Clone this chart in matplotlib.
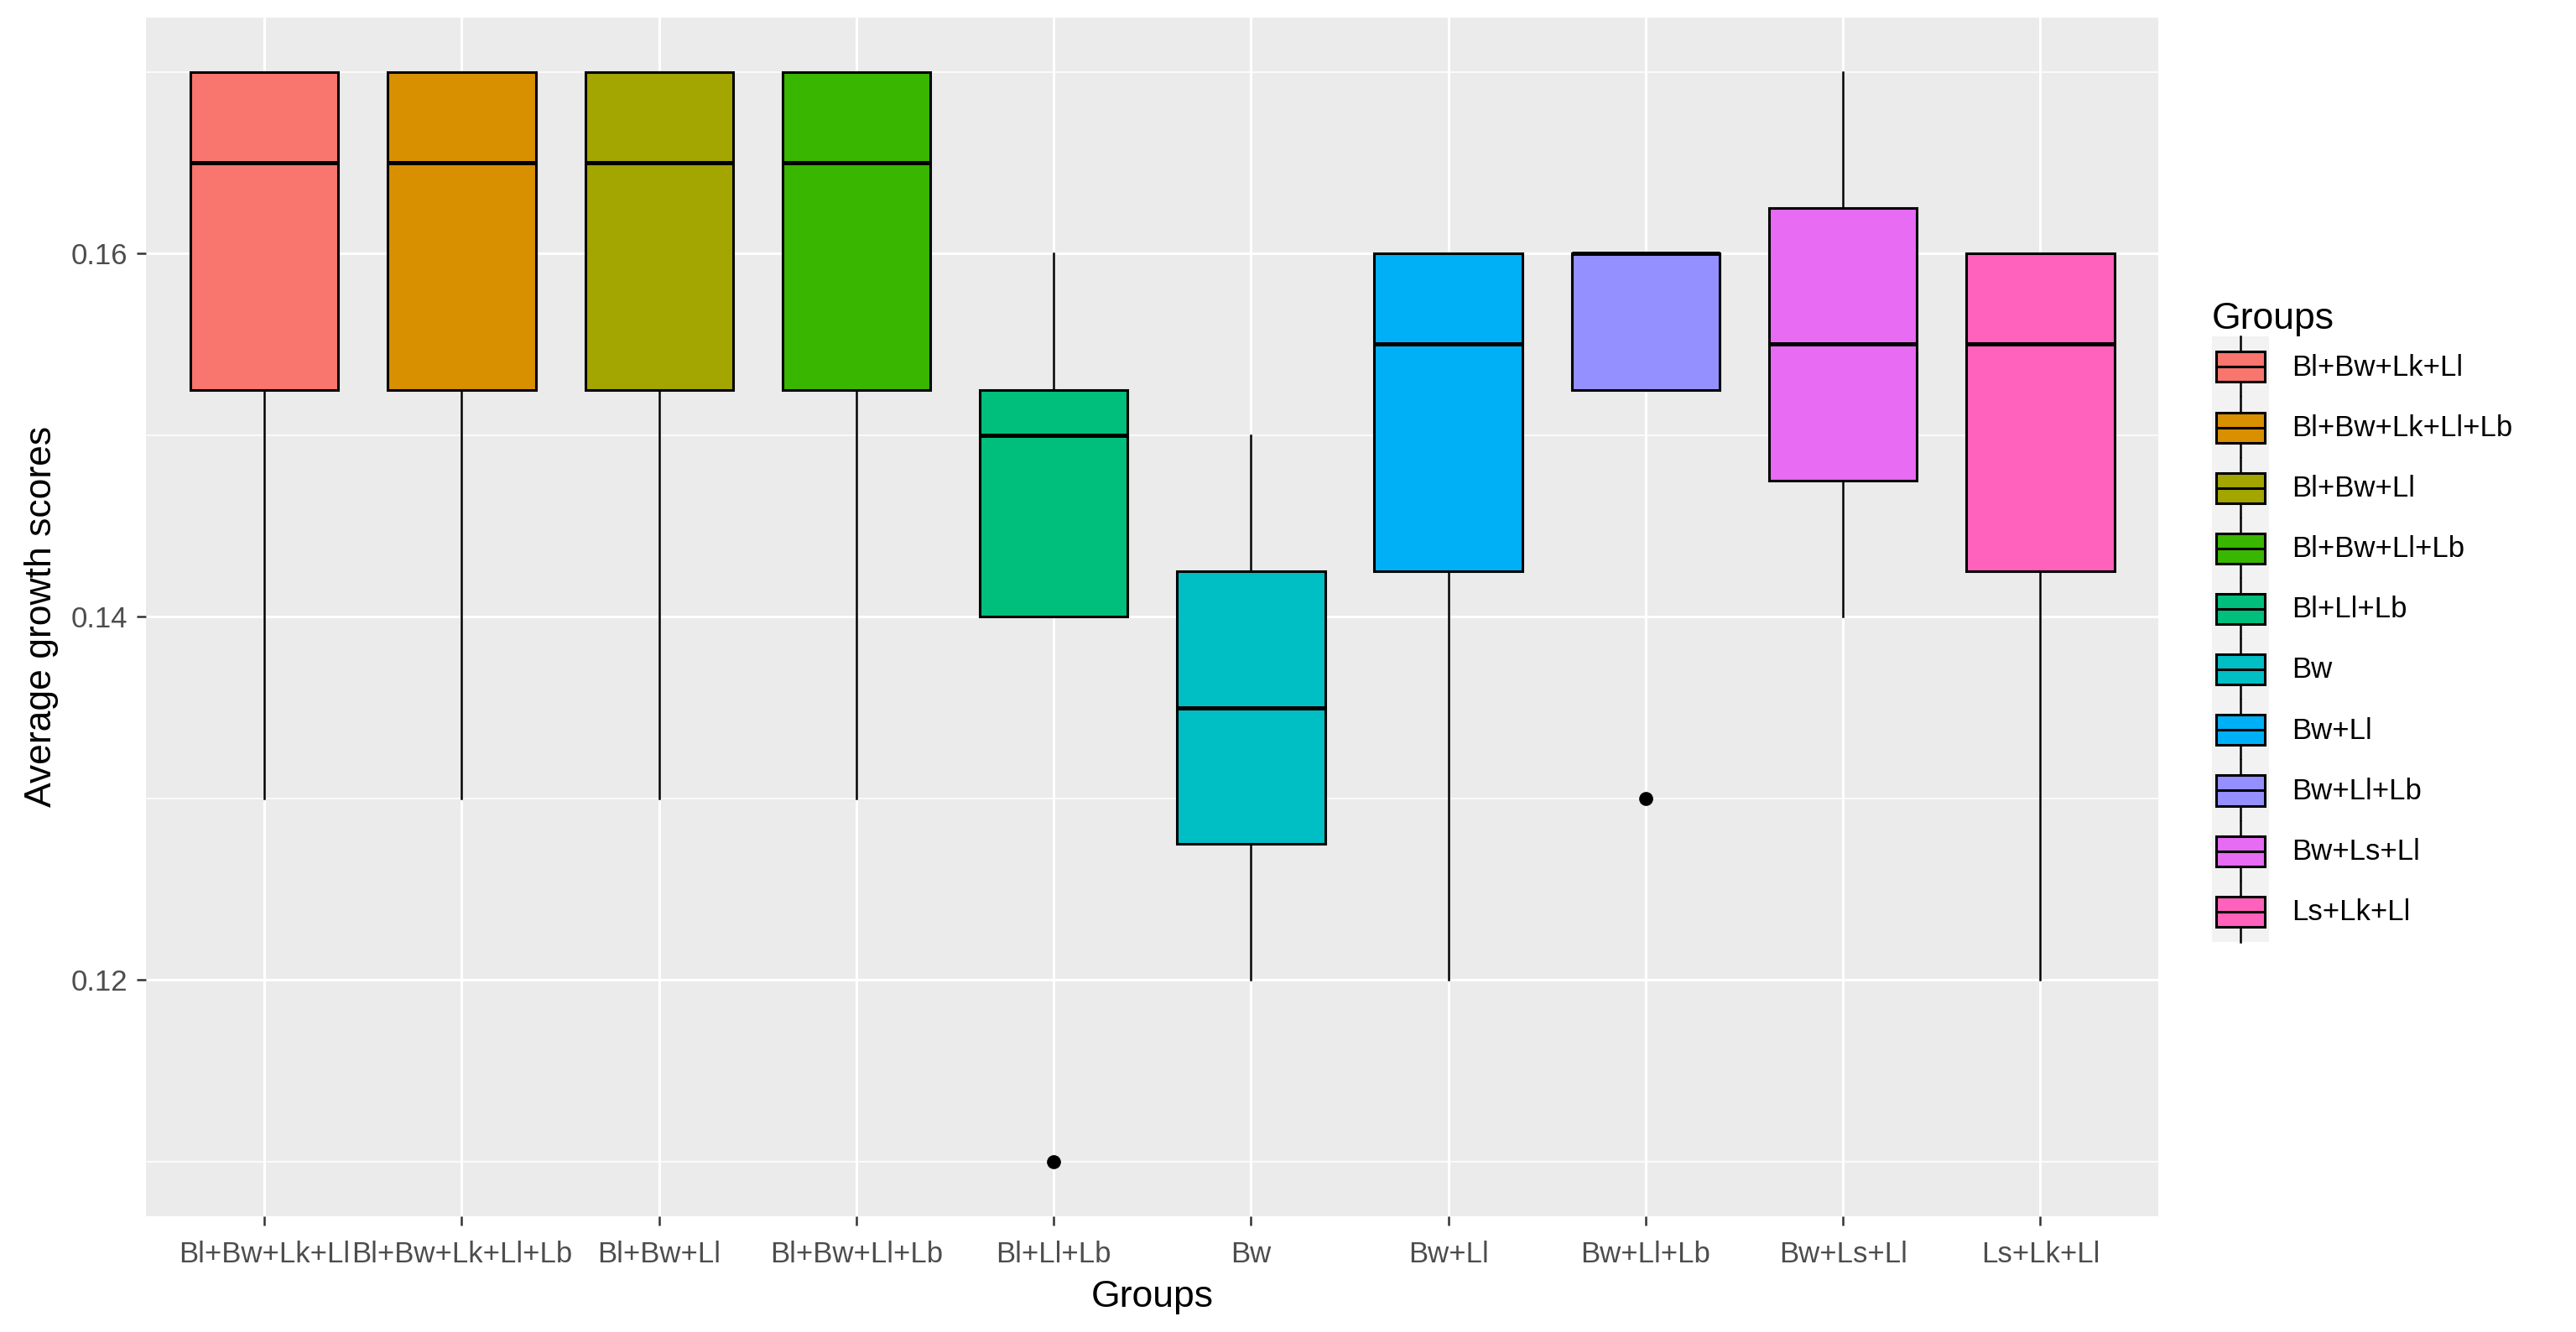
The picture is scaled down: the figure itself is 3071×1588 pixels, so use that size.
import numpy as np
import matplotlib
matplotlib.use("Agg")
import matplotlib.pyplot as plt
from matplotlib.patches import Rectangle, PathPatch
from matplotlib.lines import Line2D
from matplotlib.legend_handler import HandlerBase

plt.rcParams['font.family'] = ['Liberation Sans', 'DejaVu Sans']

# data
groups = ['Bl+Bw+Lk+Ll', 'Bl+Bw+Lk+Ll+Lb', 'Bl+Bw+Ll', 'Bl+Bw+Ll+Lb', 'Bl+Ll+Lb',
          'Bw', 'Bw+Ll', 'Bw+Ll+Lb', 'Bw+Ls+Ll', 'Ls+Lk+Ll']
medians = [0.165, 0.165, 0.165, 0.165, 0.150, 0.135, 0.155, 0.160, 0.155, 0.155]
q1 = [0.1525, 0.1525, 0.1525, 0.1525, 0.140, 0.1275, 0.1425, 0.1525, 0.1475, 0.1425]
q3 = [0.170, 0.170, 0.170, 0.170, 0.1525, 0.1425, 0.160, 0.160, 0.1625, 0.160]
whisk_lo = [0.130, 0.130, 0.130, 0.130, 0.140, 0.120, 0.120, 0.1525, 0.140, 0.120]
whisk_hi = [0.170, 0.170, 0.170, 0.170, 0.160, 0.150, 0.160, 0.160, 0.170, 0.160]
outliers = [[], [], [], [], [0.110], [], [], [0.130], [], []]

colors = ['#F8766D', '#D89000', '#A3A500', '#39B600', '#00BF7D',
          '#00BFC4', '#00B0F6', '#9590FF', '#E76BF3', '#FF62BC']

stats = []
for i, g in enumerate(groups):
    stats.append(dict(label=g, med=medians[i], q1=q1[i], q3=q3[i],
                      whislo=whisk_lo[i], whishi=whisk_hi[i], fliers=outliers[i]))


class BoxKeyHandler(HandlerBase):
    # ggplot style legend key: grey tile, box with median line, whisker through it
    def create_artists(self, legend, orig_handle, xdescent, ydescent, width, height,
                       fontsize, trans):
        x0, y0 = -xdescent, -ydescent
        bg = Rectangle((x0, y0), width, height, facecolor='#F2F2F2', edgecolor='none',
                       transform=trans)
        cx = x0 + width / 2
        cy = y0 + height / 2
        whisk = Line2D([cx, cx], [y0, y0 + height], color='black', lw=1.8, transform=trans)
        bw, bh = width * 0.85, height * 0.5
        box = Rectangle((cx - bw / 2, cy - bh / 2), bw, bh,
                        facecolor=orig_handle.get_facecolor(), edgecolor='black', lw=2.2,
                        transform=trans)
        med = Line2D([cx - bw / 2, cx + bw / 2], [cy, cy], color='black', lw=2.2,
                     transform=trans)
        return [bg, whisk, box, med]


fig = plt.figure(figsize=(30.71, 15.88), dpi=100)
ax = fig.add_axes([0.0567, 0.087, 0.7813, 0.9])
ax.set_facecolor('#EBEBEB')

positions = np.arange(1, len(groups) + 1)
bp = ax.bxp(stats, positions=positions, widths=0.75, patch_artist=True, showcaps=False,
            boxprops=dict(edgecolor='black', linewidth=2.2),
            medianprops=dict(color='black', linewidth=3.6),
            whiskerprops=dict(color='black', linewidth=1.8),
            flierprops=dict(marker='o', markerfacecolor='black', markeredgecolor='black',
                            markersize=11, linestyle='none'),
            zorder=3)
for patch, c in zip(bp['boxes'], colors):
    patch.set_facecolor(c)

ax.set_xlim(0.4, len(groups) + 0.6)
ax.set_ylim(0.107, 0.173)
ax.set_yticks([0.12, 0.14, 0.16])
ax.set_yticks([0.11, 0.13, 0.15, 0.17], minor=True)
ax.set_xticks(positions)
ax.set_xticklabels(groups)

ax.grid(which='major', color='white', linewidth=2.2, zorder=0)
ax.grid(which='minor', axis='y', color='white', linewidth=1.1, zorder=0)
ax.set_axisbelow(True)
for s in ax.spines.values():
    s.set_visible(False)

ax.tick_params(axis='both', which='major', length=8, width=1.8, color='#333333',
               labelsize=25, labelcolor='#4D4D4D', pad=8)
ax.tick_params(axis='x', which='major', pad=13)
ax.tick_params(axis='y', which='minor', length=0)

ax.set_xlabel('Groups', fontsize=32, labelpad=10)
ax.set_ylabel('Average growth scores', fontsize=32, labelpad=10)

leg = ax.legend(bp['boxes'], groups, title='Groups', handler_map={PathPatch: BoxKeyHandler()},
                loc='center left', bbox_to_anchor=(0.853, 0.533), bbox_transform=fig.transFigure,
                frameon=False, fontsize=25, title_fontsize=32, handlelength=1.96,
                handleheight=2.82, labelspacing=0.0, handletextpad=0.78, borderpad=0,
                alignment='left')

fig.savefig('out.png', dpi=100, facecolor='white')
